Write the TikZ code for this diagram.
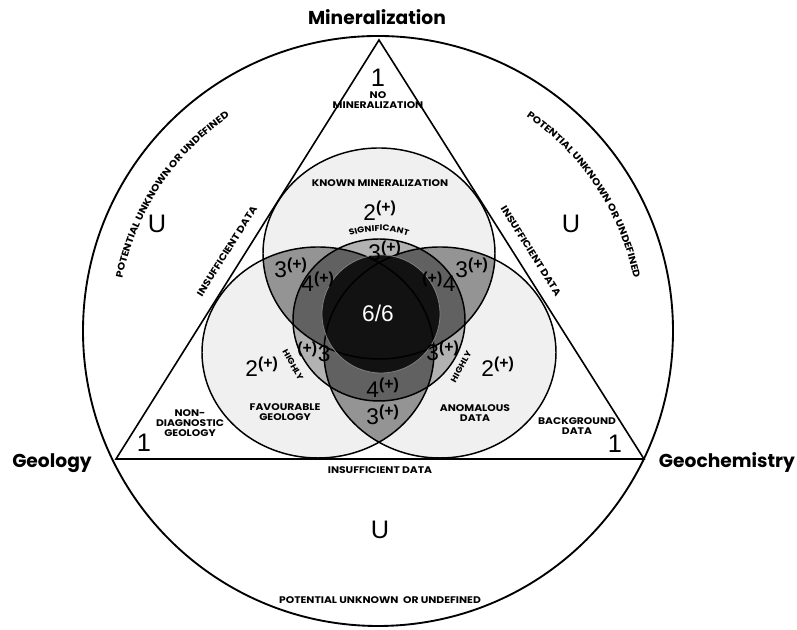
\documentclass[tikz,border=0pt]{standalone}
\usepackage{fontspec}
\setmainfont{Liberation Sans}
\newfontfamily\capfont{Poppins}
\newfontfamily\widecaps{Poppins}[FakeStretch=1.12]
\usetikzlibrary{decorations.text}

% number with the (+) mark
\newcommand{\plus}[1]{#1\textsuperscript{\bfseries(+)}}
\newcommand{\plusl}[1]{\textsuperscript{\bfseries(+)}#1}
% the rings of the diagram
\newcommand{\topring}{(379,376.5) ellipse [x radius=116, y radius=105.5]}
\newcommand{\leftring}{(318,277.5) ellipse [x radius=116, y radius=105.5]}
\newcommand{\rightring}{(440,277.5) ellipse [x radius=116, y radius=105.5]}
\newcommand{\midring}{(379,310) ellipse [x radius=86, y radius=81]}
\newcommand{\corering}{(381,316) circle [radius=59]}

\begin{document}
\begin{tikzpicture}[
    x=0.75pt, y=0.75pt,
    ring/.style={draw, line width=1.1pt},
    twofill/.style={fill=black!6},
    threefill/.style={fill=black!42},
    sigfill/.style={fill=black!30},
    fourfill/.style={fill=black!62},
    corefill/.style={fill=black!93},
    smallcaps/.style={font=\widecaps\bfseries\fontsize{7.2}{7.6}\selectfont, align=center, inner sep=0pt},
    tinycaps/.style={smallcaps, font=\widecaps\bfseries\fontsize{6.2}{7}\selectfont},
    numlabel/.style={font=\fontsize{17}{17}\selectfont, inner sep=0pt},
    bignum/.style={font=\fontsize{19}{19}\selectfont, inner sep=0pt},
    cornerlabel/.style={font=\capfont\bfseries\fontsize{14}{15}\selectfont, inner sep=0pt}
]
    \useasboundingbox (0,0) rectangle (797,630);

    % ---- shading ----
    \fill[twofill] \topring;
    \fill[twofill] \leftring;
    \fill[twofill] \rightring;
    \begin{scope}
        \clip \topring;
        \fill[threefill] \leftring;
        \fill[threefill] \rightring;
    \end{scope}
    \begin{scope}
        \clip \leftring;
        \fill[threefill] \rightring;
    \end{scope}
    \begin{scope}
        \clip \midring;
        \fill[sigfill] \topring;
        \fill[sigfill] \leftring;
        \fill[sigfill] \rightring;
        \begin{scope}
            \clip \topring;
            \fill[fourfill] \leftring;
            \fill[fourfill] \rightring;
        \end{scope}
        \begin{scope}
            \clip \leftring;
            \fill[fourfill] \rightring;
        \end{scope}
    \end{scope}
    \fill[corefill] \corering;

    % ---- outlines ----
    \coordinate (apex) at (379,590);
    \coordinate (geo) at (116,171);
    \coordinate (chem) at (644,171);
    \draw[line width=1.4pt] (378,299) circle [radius=295];
    \draw[line width=1.2pt] (apex) -- (geo) -- (chem) -- cycle;
    \draw[ring] \topring;
    \draw[ring] \leftring;
    \draw[ring] \rightring;
    \draw[ring] \midring;
    \draw[line width=0.6pt, gray] \corering;

    % ---- corner labels ----
    \node[cornerlabel] (minlab) at (377,613) {Mineralization};
    \node[cornerlabel] (geolab) at (52,167) {Geology};
    \node[cornerlabel] (chemlab) at (727,167) {Geochemistry};

    % ---- outside the triangle ----
    \node[bignum] (uleft) at (157,406) {U};
    \node[bignum] (uright) at (571,406) {U};
    \node[bignum] (ubottom) at (380,100) {U};
    \node[smallcaps] (potbottom) at (380,30) {POTENTIAL UNKNOWN\ \ OR UNDEFINED};
    \path[decorate, decoration={text along path, text align=center,
        text={|\widecaps\bfseries\fontsize{7.2}{7.6}\selectfont|POTENTIAL UNKNOWN OR UNDEFINED}}]
        (378,299) ++(171:261) arc [start angle=171, end angle=122, radius=261];
    \path[decorate, decoration={text along path, text align=center,
        text={|\widecaps\bfseries\fontsize{7.2}{7.6}\selectfont|POTENTIAL UNKNOWN OR UNDEFINED}}]
        (378,299) ++(58:261) arc [start angle=58, end angle=9, radius=261];
    \node[smallcaps, rotate=58] (insleft) at (227,379) {INSUFFICIENT DATA};
    \node[smallcaps, rotate=-58] (insright) at (531,379) {INSUFFICIENT DATA};
    \node[smallcaps] (insbottom) at (380,160) {INSUFFICIENT DATA};

    % ---- inside the triangle ----
    \node[bignum] (onetop) at (378,552) {1};
    \node[bignum] (oneleft) at (144,187) {1};
    \node[bignum] (oneright) at (615,186) {1};
    \node[smallcaps] (nomin) at (378,530) {NO\\MINERALIZATION};
    \node[smallcaps] (nondiag) at (190,207) {NON-\\DIAGNOSTIC\\GEOLOGY};
    \node[smallcaps] (backgr) at (577,204) {BACKGROUND\\DATA};

    % ---- single rings ----
    \node[smallcaps] (known) at (380,447) {KNOWN MINERALIZATION};
    \node[numlabel] (twotop) at (380,419) {\plus{2}};
    \node[numlabel] (twoleft) at (262,263) {\plus{2}};
    \node[numlabel] (tworight) at (498,263) {\plus{2}};
    \node[smallcaps] (favour) at (285,218) {FAVOURABLE\\GEOLOGY};
    \node[smallcaps] (anomal) at (475,217) {ANOMALOUS\\DATA};

    % ---- overlaps ----
    \path[decorate, decoration={text along path, text align=center,
        text={|\widecaps\bfseries\fontsize{6.2}{7}\selectfont|SIGNIFICANT}}]
        (379,310) ++(114:89) arc [start angle=114, end angle=66, radius=89];
    \node[numlabel] (threesig) at (385,379) {\plus{3}};
    \node[numlabel] (threetl) at (291,362) {\plus{3}};
    \node[numlabel] (threetr) at (472,362) {\plus{3}};
    \node[numlabel] (threebot) at (383,215) {\plus{3}};
    \node[numlabel] (threehl) at (314,278) {\plusl{3}};
    \node[numlabel] (threehr) at (443,279) {\plus{3}};
    \node[tinycaps, rotate=-61] (highl) at (293,265) {HIGHLY};
    \node[tinycaps, rotate=61] (highr) at (461,263) {HIGHLY};
    \node[numlabel] (fourl) at (318,348) {\plus{4}};
    \node[numlabel] (fourr) at (439,348) {\plusl{4}};
    \node[numlabel] (fourbot) at (383,242) {\plus{4}};
    \node[numlabel, white] (six) at (378,317) {6/6};
\end{tikzpicture}
\end{document}
